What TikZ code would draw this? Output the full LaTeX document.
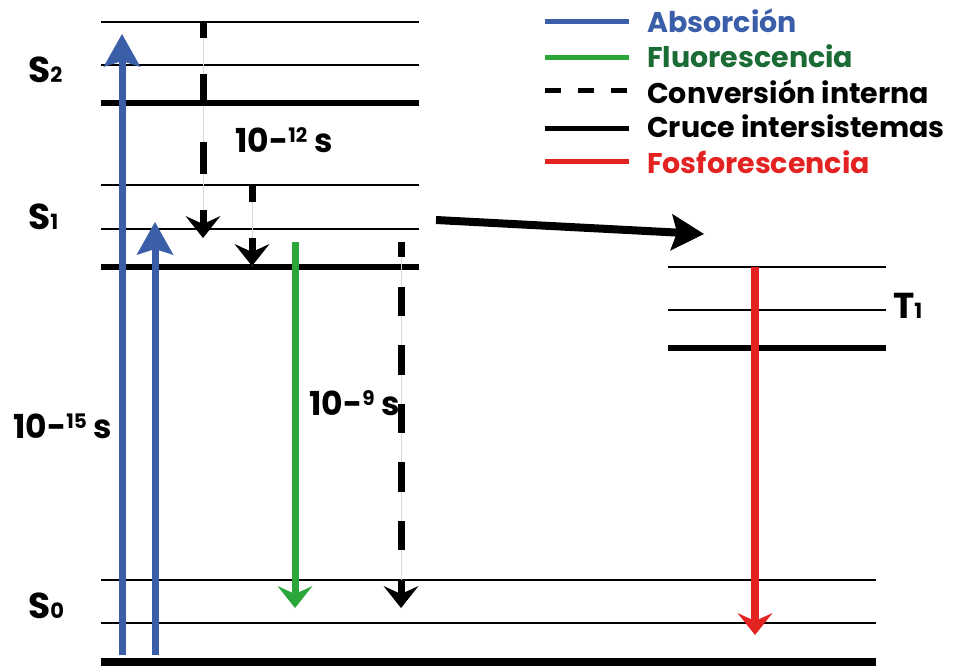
\documentclass[tikz,border=0pt]{standalone}
\usepackage{fontspec}
\setmainfont{Poppins}
\usetikzlibrary{arrows.meta}
\definecolor{absblue}{HTML}{3B5EA9}
\definecolor{flgreen}{HTML}{2AA63A}
\definecolor{fltext}{HTML}{1B6B35}
\definecolor{phred}{HTML}{E32322}
\newcommand{\lvsub}[1]{{\fontsize{21}{21}\selectfont #1}}
\newcommand{\expo}[1]{\raisebox{10pt}{\fontsize{20}{20}\selectfont #1}}
\begin{document}
\begin{tikzpicture}[x=1pt,y=-1pt,
  lvl/.style={line width=2.4pt},
  lvlthick/.style={line width=6.5pt},
  headA/.style={-{Stealth[length=33pt,width=37pt,inset=6pt,line width=0pt]}},
  headB/.style={-{Stealth[length=22pt,width=35pt,inset=8pt,line width=0pt]}},
  absarrow/.style={draw=absblue,line width=7pt,headA},
  fluarrow/.style={draw=flgreen,line width=7pt,headB},
  phoarrow/.style={draw=phred,line width=7.5pt,headB},
  icarrow/.style={draw=black,line width=7pt,headB},
  iscarrow/.style={draw=black,line width=8pt,headA},
  hair/.style={draw=black!15,line width=0.8pt},
  lbl/.style={font=\bfseries\fontsize{28.5}{30}\selectfont,inner sep=0pt,anchor=base west},
  statelbl/.style={lbl,font=\bfseries\fontsize{36}{36}\selectfont},
  timelbl/.style={lbl,font=\bfseries\fontsize{33}{33}\selectfont},
  leg/.style={line width=5pt},
]
\useasboundingbox (0,0) rectangle (955,666);
% S2 levels
\draw[lvl] (101,22) -- (419,22);
\draw[lvl] (101,65) -- (419,65);
\draw[lvlthick] (101,103) -- (419,103);
% S1 levels
\draw[lvl] (101,185) -- (419,185);
\draw[lvl] (101,229) -- (419,229);
\draw[lvlthick] (101,267) -- (419,267);
% S0 levels
\draw[lvl] (101,580) -- (876,580);
\draw[lvl] (101,623) -- (876,623);
\draw[line width=8pt] (101,662) -- (876,662);
% T1 levels
\draw[lvl] (668,267) -- (886,267);
\draw[lvl] (668,310) -- (886,310);
\draw[lvlthick] (668,348) -- (886,348);
% labels
\node[statelbl] (s2) at (28,83) {S\lvsub{2}};
\node[statelbl] (s1) at (28,229) {S\lvsub{1}};
\node[statelbl] (s0) at (28,618) {S\lvsub{0}};
\node[statelbl] (t1) at (893,318) {T\lvsub{1}};
\node[timelbl] (t12) at (235,153) {10-\expo{12} s};
\node[timelbl] (t9) at (309,415) {10-\expo{9} s};
\node[timelbl] (t15) at (13,438) {10-\expo{15} s};
% coordinates
\coordinate (a1s) at (122,655); \coordinate (a1e) at (122,34);
\coordinate (a2s) at (155,655); \coordinate (a2e) at (155,222);
\coordinate (c1s) at (203,22);  \coordinate (c1e) at (203,238);
\coordinate (c2s) at (252,185); \coordinate (c2e) at (252,266);
\coordinate (c3s) at (401,242); \coordinate (c3e) at (401,608);
\coordinate (fs) at (295,242);  \coordinate (fe) at (295,608);
\coordinate (ps) at (755,267);  \coordinate (pe) at (755,635);
\coordinate (is) at (436,220);  \coordinate (ie) at (704,234);
% hairlines
\draw[hair] (c1s) -- (c1e);
\draw[hair] (c2s) -- (c2e);
\draw[hair] (c3s) -- (c3e);
% transitions
\draw[absarrow] (a1s) -- (a1e);
\draw[absarrow] (a2s) -- (a2e);
\draw[icarrow,dash pattern=on 32pt off 36pt,dash phase=16pt] (c1s) -- (c1e);
\draw[icarrow,dash pattern=on 32pt off 36pt,dash phase=15pt] (c2s) -- (c2e);
\draw[icarrow,dash pattern=on 29.3pt off 29.3pt,dash phase=14pt] (c3s) -- (c3e);
\draw[fluarrow] (fs) -- (fe);
\draw[phoarrow] (ps) -- (pe);
\draw[iscarrow] (is) -- (ie);
% legend
\coordinate (l1a) at (545,22);  \coordinate (l1b) at (629,22);
\coordinate (l2a) at (545,58);  \coordinate (l2b) at (629,58);
\coordinate (l3a) at (545,91);  \coordinate (l3b) at (629,91);
\coordinate (l4a) at (545,129); \coordinate (l4b) at (629,129);
\coordinate (l5a) at (545,161); \coordinate (l5b) at (629,161);
\draw[leg,absblue] (l1a) -- (l1b);
\draw[leg,flgreen] (l2a) -- (l2b);
\draw[leg,black,dash pattern=on 16pt off 17pt] (l3a) -- (l3b);
\draw[leg,black] (l4a) -- (l4b);
\draw[leg,phred] (l5a) -- (l5b);
\node[lbl,text=absblue] (g1) at (647,33) {Absorción};
\node[lbl,text=fltext] (g2) at (647,68) {Fluorescencia};
\node[lbl] (g3) at (647,103) {Conversión interna};
\node[lbl] (g4) at (647,138) {Cruce intersistemas};
\node[lbl,text=phred] (g5) at (647,173) {Fosforescencia};
\end{tikzpicture}
\end{document}
